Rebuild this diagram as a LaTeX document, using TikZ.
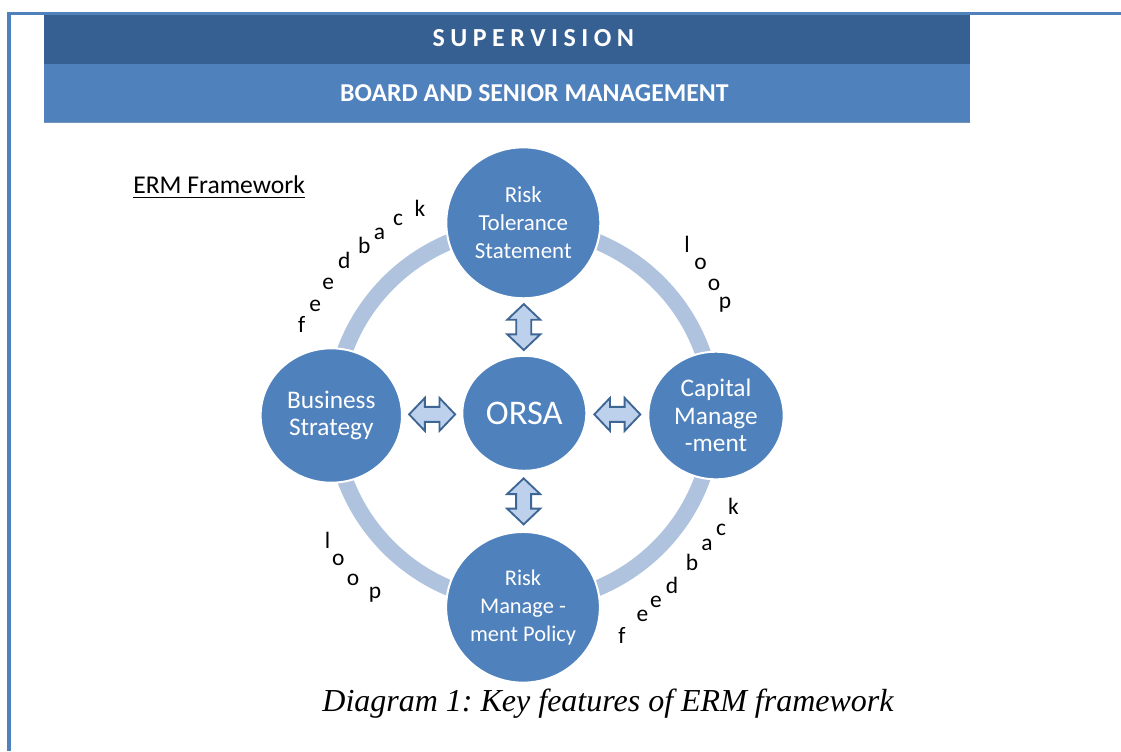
\documentclass[tikz,border=0pt]{standalone}
\usepackage{fontspec}
\setmainfont{Carlito}
\newfontfamily\capfont{Liberation Serif}
\usetikzlibrary{shapes.geometric,calc}
\definecolor{hdrdark}{RGB}{54,96,146}
\definecolor{accent}{RGB}{79,129,189}
\definecolor{ringcol}{RGB}{176,195,222}
\definecolor{arrfill}{RGB}{190,209,236}
\definecolor{arrline}{RGB}{62,102,148}
\definecolor{hdredge}{RGB}{120,145,180}
\newcommand\lsp{\kern4.1pt}
\begin{document}
\frenchspacing
\begin{tikzpicture}[x=0.75pt,y=-0.75pt,
  bubble/.style={ellipse, fill=accent, draw=white, line width=1.5pt, inner sep=0pt, text=white, align=center},
  ringst/.style={draw=ringcol, line width=12pt},
  blockarrow/.style={draw=arrline, fill=arrfill, line width=1.4pt, line join=miter},
  letter/.style={anchor=base, inner sep=0pt, font=\fontsize{17.6}{20}\selectfont},
  hdrtext/.style={anchor=base, inner sep=0pt, text=white, font=\bfseries\fontsize{19.3}{22}\selectfont},
  vdarrow/.pic={\path[blockarrow] (0,-23) -- (16.5,-7.3) -- (7.5,-7.3) -- (7.5,7.3) -- (16.5,7.3) -- (0,23) -- (-16.5,7.3) -- (-7.5,7.3) -- (-7.5,-7.3) -- (-16.5,-7.3) -- cycle;},
  hdarrow/.pic={\path[blockarrow] (-23,0) -- (-7.3,16.5) -- (-7.3,7.5) -- (7.3,7.5) -- (7.3,16.5) -- (23,0) -- (7.3,-16.5) -- (7.3,-7.5) -- (-7.3,-7.5) -- (-7.3,-16.5) -- cycle;}
]
\useasboundingbox (0,0) rectangle (1121,751);
\fill[white] (0,0) rectangle (1121,751);

% page border
\draw[accent, line width=2.6pt, line join=miter] (9,751) -- (9,13.3) -- (1121,13.3);

% header bands
\fill[hdrdark] (44,15) rectangle (970,63.5);
\fill[accent] (44,63.5) rectangle (970,122.3);
\draw[hdredge, line width=0.6pt] (44,122.3) -- (970,122.3);
\node[hdrtext, font=\bfseries\fontsize{19.5}{22}\selectfont] (sup) at (533.3,46.7) {S\lsp U\lsp P\lsp E\lsp R\lsp V\lsp I\lsp S\lsp I\lsp O\lsp N};
\node[hdrtext] (bsm) at (534.3,101) {BOARD AND SENIOR MANAGEMENT};

% title
\node[anchor=base west, inner sep=0pt, font=\fontsize{19.2}{22}\selectfont] (erm) at (133,193.3) {ERM Framework};
\draw[line width=1.1pt] ([yshift=-3.1pt]erm.base west) -- ([yshift=-3.1pt]erm.base east);

% ring
\coordinate (ringc) at (523.5,415);
\draw[ringst] (ringc) ellipse [x radius=142.5pt, y radius=141pt];

% circles
\node[bubble, minimum width=115.5pt, minimum height=113.2pt, font=\fontsize{17.2}{21}\selectfont] (rts) at (523.3,222.8) {Risk\\Tolerance\\Statement};
\node[bubble, minimum width=106pt, minimum height=100.8pt, font=\fontsize{19}{20.6}\selectfont] (bs) at (331.3,415.5) {Business\\Strategy};
\node[bubble, minimum width=93pt, minimum height=86.2pt, font=\fontsize{25.9}{30}\selectfont] (orsa) at (524.3,413.3) {ORSA};
\node[bubble, minimum width=101.5pt, minimum height=95.7pt, font=\fontsize{19}{20.6}\selectfont] (cm) at (716,415.5) {Capital\\Manage\\-ment};
\node[bubble, minimum width=115.3pt, minimum height=113pt, font=\fontsize{16.8}{21}\selectfont] (rmp) at (523,607.3) {Risk\\Manage -\\ment Policy};

% double block arrows between the circles
\pic (atop) at ($(rts.south)!0.5!(orsa.north)$) {vdarrow};
\pic (abot) at ($(orsa.south)!0.5!(rmp.north)$) {vdarrow};
\pic (alft) at ($(bs.east)!0.5!(orsa.west)$) {hdarrow};
\pic (argt) at ($(orsa.east)!0.5!(cm.west)$) {hdarrow};

% feedback (upper left)
\foreach \ch/\x/\y [count=\i] in {f/301.7/332.7, e/315.3/311, e/328.3/289, d/344.3/268.3, b/364.3/253.3, a/379.5/239, c/398/225, k/420/216}
  \node[letter] (fbA\i) at (\x,\y) {\ch};
% loop (upper right)
\foreach \ch/\x/\y [count=\i] in {l/687/252.7, o/700.5/269, o/714/290, p/725/308}
  \node[letter] (lpA\i) at (\x,\y) {\ch};
% loop (lower left)
\foreach \ch/\x/\y [count=\i] in {l/327.5/548.3, o/338.3/565, o/353/585, p/375/598}
  \node[letter] (lpB\i) at (\x,\y) {\ch};
% feedback (lower right)
\foreach \ch/\x/\y [count=\i] in {f/622/643, e/642.5/621.7, e/656/607, d/672/593.3, b/692/570.7, a/707/550, c/721/535, k/733.5/514}
  \node[letter] (fbB\i) at (\x,\y) {\ch};

% caption
\node[anchor=base, inner sep=0pt, font=\capfont\itshape\fontsize{24}{28}\selectfont] (cap) at (608,711.7) {Diagram 1: Key features of ERM framework};
\end{tikzpicture}
\end{document}
